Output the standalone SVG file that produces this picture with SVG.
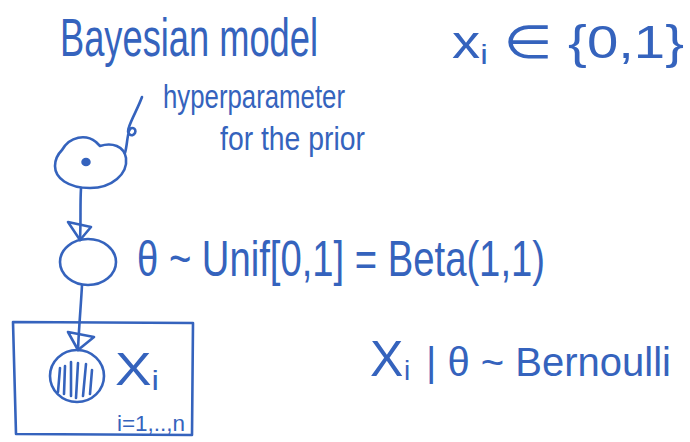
<svg xmlns="http://www.w3.org/2000/svg" width="690" height="442" viewBox="0 0 690 442">
<style>
.ink{fill:none;stroke:#3563bd;stroke-width:2.6;stroke-linecap:round;stroke-linejoin:round}
.t{fill:#3563bd;font-family:"Liberation Sans","DejaVu Sans",sans-serif}
</style>
<rect width="690" height="442" fill="#ffffff"/>
<g id="titles">
<text class="t" x="60" y="56" font-size="54" textLength="258" lengthAdjust="spacingAndGlyphs">Bayesian model</text>
<text class="t" x="452" y="58" font-size="46" textLength="232" lengthAdjust="spacingAndGlyphs">x<tspan font-size="28" dy="6">i</tspan><tspan dy="-6"> ∈ {0,1}</tspan></text>
</g>
<g id="hyperparameter">
<path class="ink" d="M62,150 C70,136 86,134 96,142 L100,146 C112,142 124,146 126,158 C128,174 112,188 90,188 C68,188 55,178 55,166 C55,160 58,154 62,150 Z"/>
<ellipse cx="86" cy="162" rx="4" ry="3.5" fill="#3563bd" stroke="#3563bd" stroke-width="1.5"/>
<text class="t" x="163" y="108" font-size="34" textLength="182" lengthAdjust="spacingAndGlyphs">hyperparameter</text>
<text class="t" x="220" y="150" font-size="34" textLength="145" lengthAdjust="spacingAndGlyphs">for the prior</text>
</g>
<g id="theta">
<ellipse class="ink" cx="88" cy="262" rx="28" ry="23"/>
<text class="t" x="137" y="276" font-size="50" textLength="408" lengthAdjust="spacingAndGlyphs">θ ~ Unif[0,1] = Beta(1,1)</text>
</g>
<g id="plate">
<path class="ink" d="M13,322 L193,323 L192,435 L16,434 Z"/>
<text class="t" x="117" y="431" font-size="22" textLength="68" lengthAdjust="spacingAndGlyphs">i=1,..,n</text>
</g>
<g id="xi">
<ellipse class="ink" cx="77" cy="376" rx="27" ry="26"/>
<path class="ink" d="M60,368 L58,392 M65,366 L64,394 M71,362 L71,396 M78,363 L76,398 M86,364 L83,396 M92,370 L90,394"/>
<text class="t" x="115" y="385" font-size="46" textLength="44" lengthAdjust="spacingAndGlyphs">X<tspan font-size="28" dy="5">i</tspan></text>
</g>
<g id="likelihood">
<text class="t" x="370" y="376" font-size="50">X</text>
<text class="t" x="404" y="380" font-size="28">i</text>
<text class="t" x="426" y="376" font-size="40">| θ ~ Bernoulli</text>
</g>
<g id="connectors">
<path class="ink" d="M142,97 C138,108 132,118 129,127 C126,134 132,138 135,133 C137,128 131,126 129,131 C127,138 127,146 125,153"/>
<path class="ink" d="M81,188 C80,205 81,220 80,240"/>
<path class="ink" d="M68,222 L91,227 L80,240 Z"/>
<path class="ink" d="M82,285 C81,305 79,325 78,350"/>
<path class="ink" d="M68,332 L94,337 L78,350 Z"/>
</g>
</svg>
